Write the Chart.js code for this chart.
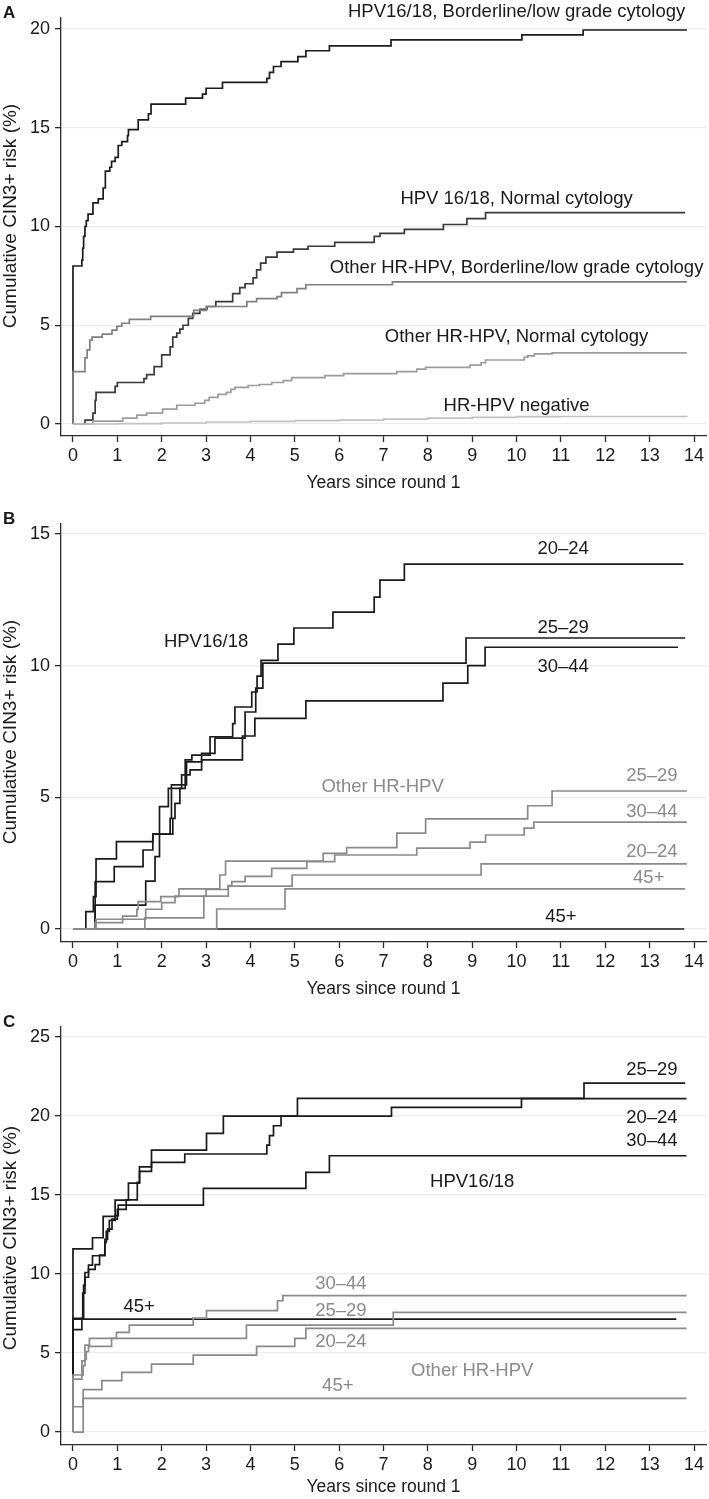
<!DOCTYPE html>
<html>
<head>
<meta charset="utf-8">
<script src="https://cdn.jsdelivr.net/npm/chart.js@4.4.1/dist/chart.umd.min.js"></script>
<style>
html, body { margin: 0; padding: 0; background: #fff; overflow: hidden; }
canvas { position: absolute; left: 0; }
</style>
</head>
<body>
<canvas id="chartA" width="709" height="500" style="top:0px"></canvas>
<canvas id="chartB" width="709" height="500" style="top:506px"></canvas>
<canvas id="chartC" width="709" height="490" style="top:1009px"></canvas>
<script>
// x ticks shared by all three panels (years since round 1)
var xTicks = [0, 1, 2, 3, 4, 5, 6, 7, 8, 9, 10, 11, 12, 13, 14];

// ---- panel A: by HPV type and cytology ----
var yTicksA = [0, 5, 10, 15, 20];
var aHpvBorderline = [[0,0],[0,8.0],[0.2,8.3],[0.22,8.9],[0.24,9.5],[0.27,10.0],[0.3,10.3],[0.34,10.63],[0.45,11.2],[0.57,11.4],[0.68,11.95],[0.73,12.8],[0.83,13.0],[0.87,13.3],[0.95,13.5],[1.02,14.1],[1.1,14.3],[1.23,14.6],[1.25,14.9],[1.47,15.4],[1.7,15.7],[1.76,16.2],[2.54,16.5],[2.92,16.7],[3.0,17.0],[3.37,17.3],[4.37,17.5],[4.43,17.8],[4.52,18.1],[4.69,18.35],[5.07,18.6],[5.25,18.9],[5.78,19.15],[7.17,19.45],[10.12,19.7],[11.5,19.95],[13.84,19.95]];
var aHpvNormal = [[0,0],[0.27,0.2],[0.45,0.55],[0.5,1.2],[0.52,1.6],[0.95,1.9],[1.0,2.1],[1.6,2.3],[1.66,2.5],[1.83,2.9],[2.0,3.5],[2.19,3.9],[2.25,4.4],[2.34,4.6],[2.41,4.8],[2.48,5.0],[2.6,5.35],[2.7,5.6],[2.86,5.8],[3.02,5.95],[3.22,6.2],[3.6,6.6],[3.76,6.9],[3.88,7.1],[4.06,7.4],[4.14,7.8],[4.23,8.15],[4.35,8.45],[4.6,8.7],[4.97,8.85],[5.3,9.0],[5.9,9.2],[6.79,9.5],[6.92,9.65],[7.47,9.85],[8.35,10.1],[8.88,10.4],[9.3,10.7],[13.8,10.7]];
var aOtherBorderline = [[0,0],[0,2.65],[0.27,3.35],[0.32,3.75],[0.38,4.25],[0.43,4.4],[0.66,4.55],[0.88,4.75],[0.99,4.95],[1.1,5.1],[1.27,5.3],[1.75,5.45],[2.72,5.75],[3.0,5.95],[3.92,6.2],[4.14,6.35],[4.6,6.45],[4.7,6.65],[5.05,6.85],[5.25,7.05],[7.2,7.2],[13.84,7.2]];
var aOtherNormal = [[0,0],[0.45,0.15],[1.12,0.3],[1.44,0.45],[1.66,0.55],[2.02,0.75],[2.34,0.95],[2.75,1.05],[2.97,1.2],[3.07,1.35],[3.27,1.5],[3.46,1.6],[3.56,1.75],[3.65,1.85],[3.95,1.95],[4.2,2.0],[4.48,2.1],[4.74,2.2],[4.93,2.35],[5.68,2.45],[6.1,2.55],[7.3,2.65],[7.75,2.78],[7.95,2.87],[8.95,2.98],[9.2,3.1],[9.3,3.24],[10.17,3.38],[10.25,3.45],[10.4,3.55],[10.8,3.6],[13.84,3.6]];
var aNegative = [[0,0],[1,0.02],[2,0.05],[3,0.1],[4,0.13],[5,0.17],[6,0.2],[7,0.25],[8,0.3],[9,0.34],[10,0.37],[11,0.38],[13.84,0.4]];
var aLabelText = ['HPV16/18, Borderline/low grade cytology', 'HPV 16/18, Normal cytology', 'Other HR-HPV, Borderline/low grade cytology', 'Other HR-HPV, Normal cytology', 'HR-HPV negative'];
var aLabelX = [10, 10, 10, 10, 10];
var aLabelY = [20.86, 11.39, 7.9, 4.4, 0.91];

// ---- panel B: normal cytology, by age group ----
var yTicksB = [0, 5, 10, 15];
var bHpv2024 = [[0,0],[0.29,0.66],[0.46,1.23],[0.52,2.66],[0.98,3.32],[1.8,3.6],[1.95,4.65],[2.15,5.34],[2.53,6.42],[2.68,6.6],[3.09,7.3],[3.6,7.8],[3.65,8.43],[4.03,9.0],[4.15,9.6],[4.24,10.2],[4.62,10.82],[4.98,11.43],[5.86,12.03],[6.79,12.6],[6.92,13.25],[7.47,13.86],[13.76,13.86]];
var bHpv2529 = [[0,0],[0.5,1.8],[0.93,2.37],[1.58,3.0],[1.8,3.6],[2.19,4.2],[2.22,5.47],[2.56,6.35],[2.9,6.67],[3.2,7.25],[3.88,8.24],[4.12,9.15],[4.28,10.1],[8.86,11.05],[13.8,11.05]];
var bHpv3044 = [[0,0],[0.5,0.91],[1.64,1.82],[1.85,2.75],[1.95,3.6],[2.25,4.2],[2.3,4.77],[2.41,5.34],[2.45,5.85],[2.64,6.04],[2.9,6.42],[3.82,7.33],[4.1,8.0],[5.25,8.66],[8.34,9.34],[8.9,10.0],[9.29,10.7],[13.64,10.7]];
var bHpv45 = [[0,0],[13.78,0]];
var bOther2529 = [[0,0],[0.5,0.24],[1.12,0.49],[1.44,0.75],[1.47,1.04],[1.98,1.23],[2.39,1.52],[3.31,2.05],[3.44,2.58],[5.64,2.87],[6.17,3.09],[7.3,3.64],[7.95,4.18],[10.25,4.68],[10.8,5.24],[13.84,5.24]];
var bOther3044 = [[0,0],[0.52,0.37],[1.64,0.75],[2.0,1.0],[2.3,1.25],[3.0,1.5],[3.5,1.65],[3.58,1.8],[3.88,2.0],[4.48,2.3],[5.27,2.56],[5.9,2.81],[7.75,3.07],[8.95,3.3],[9.3,3.57],[10.17,3.83],[10.39,4.06],[13.84,4.06]];
var bOther2024 = [[0,0],[1.62,0.42],[2.95,1.25],[3.5,1.63],[4.94,2.05],[9.2,2.47],[13.84,2.47]];
var bOther45 = [[0,0],[3.24,0.76],[4.78,1.52],[13.8,1.52]];
var bBlackText = ['20–24', '25–29', '30–44', 'HPV16/18', '45+'];
var bBlackX = [11.05, 11.05, 11.05, 3.0, 11.0];
var bBlackY = [14.43, 11.43, 9.95, 10.9, 0.46];
var bGrayText = ['25–29', '30–44', '20–24', '45+', 'Other HR-HPV'];
var bGrayX = [13.05, 13.05, 13.05, 12.98, 6.98];
var bGrayY = [5.81, 4.44, 2.92, 1.94, 5.4];

// ---- panel C: borderline/low grade cytology, by age group ----
var yTicksC = [0, 5, 10, 15, 20, 25];
var cHpv2529 = [[0,0],[0,11.6],[0.44,12.3],[0.68,13.65],[0.95,14.68],[1.25,15.76],[1.5,16.79],[1.77,17.85],[3.01,18.9],[3.39,20.0],[5.06,21.12],[11.52,22.09],[13.8,22.09]];
var cHpv2024 = [[0,0],[0,6.48],[0.2,7.2],[0.24,9.3],[0.27,10.1],[0.35,10.57],[0.44,11.16],[0.72,12.2],[0.78,12.85],[0.88,13.48],[1.0,14.1],[1.2,14.7],[1.45,15.8],[1.5,16.5],[1.77,17.07],[2.52,17.6],[4.37,18.16],[4.43,18.76],[4.52,19.39],[4.69,20.0],[7.18,20.55],[10.11,21.1],[13.83,21.1]];
var cHpv3044 = [[0,0],[0,7.2],[0.22,8.8],[0.27,9.8],[0.35,10.3],[0.5,10.6],[0.6,11.2],[0.72,12.0],[0.75,12.7],[0.82,13.4],[0.95,13.7],[1.02,14.37],[2.94,15.42],[5.25,16.44],[5.78,17.49],[13.83,17.49]];
var cHpv45 = [[0,0],[0,7.15],[13.6,7.15]];
var cOther3044 = [[0,0],[0,3.61],[0.23,4.2],[0.27,4.6],[0.3,5.1],[0.35,5.42],[0.87,5.93],[0.98,6.31],[1.27,6.77],[2.71,7.21],[3.01,7.68],[4.61,8.31],[4.73,8.63],[13.83,8.63]];
var cOther2529 = [[0,0],[0,3.35],[0.2,4.5],[0.27,5.5],[0.37,5.93],[3.91,6.77],[7.22,7.57],[13.83,7.57]];
var cOther2024 = [[0,0],[0,1.6],[0.23,2.68],[0.65,3.25],[1.1,3.78],[1.77,4.3],[2.71,4.87],[4.14,5.42],[5.0,5.93],[5.25,6.56],[13.83,6.56]];
var cOther45 = [[0,0],[0.23,2.13],[13.83,2.13]];
var cBlackText = ['25–29', '20–24', '30–44', 'HPV16/18', '45+'];
var cBlackX = [13.05, 13.05, 13.05, 9.0, 1.49];
var cBlackY = [22.9, 19.9, 18.4, 15.85, 7.89];
var cGrayText = ['30–44', '25–29', '20–24', '45+', 'Other HR-HPV'];
var cGrayX = [6.04, 6.04, 6.04, 5.97, 9.0];
var cGrayY = [9.37, 7.68, 5.68, 2.93, 3.88];

var FONT = '"Liberation Sans", Arial, Helvetica, sans-serif';
var INK = '#1a1a1a';
var GRAYTXT = '#8a8a8a';
var AXIS = '#2a2a2a';
var GRID = '#ececec';
var AREA_TOP = 18, AREA_H = 418;

Chart.defaults.font.family = FONT;

function makeLabels(texts, xs, ys, color) {
    return texts.map(function(t, i){ return {text: t, x: xs[i], y: ys[i], color: color}; });
}

function curve(pts, color){
    return {
        data: pts.map(function(p){ return {x: p[0], y: p[1]}; }),
        borderColor: color,
        borderWidth: 1.7,
        pointRadius: 0,
        stepped: true,
        fill: false
    };
}

function makePanel(id, letter, yMin, yMax, yTicks, datasets, labels, titleBottom, yTitleShift){
    var canvas = document.getElementById(id);
    return new Chart(canvas, {
        type: 'line',
        data: {datasets: datasets},
        options: {
            responsive: false,
            animation: false,
            events: [],
            layout: {padding: {top: AREA_TOP, right: 3, left: 0, bottom: 0}},
            plugins: {legend: {display: false}, tooltip: {enabled: false}},
            scales: {
                x: {
                    type: 'linear', min: -0.27, max: 14.27,
                    afterBuildTicks: function(s){ s.ticks = xTicks.map(function(v){ return {value: v}; }); },
                    afterFit: function(s){ s.height = canvas.height - AREA_TOP - AREA_H; },
                    grid: {drawOnChartArea: false, tickLength: 6, tickColor: AXIS, tickWidth: 1.3},
                    border: {color: AXIS, width: 1.3},
                    ticks: {color: INK, font: {size: 18}, padding: 3, maxRotation: 0, autoSkip: false},
                    title: {display: true, text: 'Years since round 1', color: INK, font: {size: 17.5}, padding: {top: 0, bottom: titleBottom}}
                },
                y: {
                    type: 'linear', min: yMin, max: yMax,
                    afterBuildTicks: function(s){ s.ticks = yTicks.map(function(v){ return {value: v}; }); },
                    afterFit: function(s){ s.width = 61; },
                    grid: {color: GRID, lineWidth: 1.3, tickLength: 6, tickColor: AXIS, tickWidth: 1.3},
                    border: {color: AXIS, width: 1.3},
                    ticks: {color: INK, font: {size: 18}, padding: 5, autoSkip: false}
                }
            }
        },
        plugins: [{
            id: 'curveLabels',
            afterDatasetsDraw: function(chart){
                var ctx = chart.ctx, xs = chart.scales.x, ys = chart.scales.y, area = chart.chartArea;
                ctx.save();
                ctx.font = '18.5px ' + FONT;
                ctx.textAlign = 'center';
                ctx.textBaseline = 'middle';
                labels.forEach(function(l){
                    ctx.fillStyle = l.color;
                    ctx.fillText(l.text, xs.getPixelForValue(l.x), ys.getPixelForValue(l.y));
                });
                // y axis title (drawn by hand so it can sit where the original has it)
                ctx.fillStyle = INK;
                ctx.font = '19px ' + FONT;
                ctx.translate(11, (area.top + area.bottom) / 2 + yTitleShift);
                ctx.rotate(-Math.PI / 2);
                ctx.fillText('Cumulative CIN3+ risk (%)', 0, 0);
                ctx.restore();

                ctx.save();
                ctx.font = 'bold 17px ' + FONT;
                ctx.textAlign = 'left';
                ctx.textBaseline = 'middle';
                ctx.fillStyle = INK;
                ctx.fillText(letter, 3, area.top - 5);
                ctx.restore();
            }
        }]
    });
}

makePanel('chartA', 'A', -0.608, 20.557, yTicksA, [
    curve(aNegative, '#c2c2c2'),
    curve(aOtherNormal, '#9c9c9c'),
    curve(aOtherBorderline, '#808080'),
    curve(aHpvNormal, '#3a3a3a'),
    curve(aHpvBorderline, '#1c1c1c')
], makeLabels(aLabelText, aLabelX, aLabelY, INK), 6, -11);

makePanel('chartB', 'B', -0.494, 15.38, yTicksB, [
    curve(bOther45, '#8a8a8a'),
    curve(bOther2024, '#8a8a8a'),
    curve(bOther3044, '#8a8a8a'),
    curve(bOther2529, '#8a8a8a'),
    curve(bHpv45, '#1a1a1a'),
    curve(bHpv3044, '#1a1a1a'),
    curve(bHpv2529, '#1a1a1a'),
    curve(bHpv2024, '#1a1a1a')
], makeLabels(bBlackText, bBlackX, bBlackY, INK).concat(makeLabels(bGrayText, bGrayX, bGrayY, GRAYTXT)), 6, -1);

makePanel('chartC', 'C', -0.82, 25.64, yTicksC, [
    curve(cOther45, '#8a8a8a'),
    curve(cOther2024, '#8a8a8a'),
    curve(cOther2529, '#8a8a8a'),
    curve(cOther3044, '#8a8a8a'),
    curve(cHpv45, '#1a1a1a'),
    curve(cHpv3044, '#1a1a1a'),
    curve(cHpv2024, '#1a1a1a'),
    curve(cHpv2529, '#1a1a1a')
], makeLabels(cBlackText, cBlackX, cBlackY, INK).concat(makeLabels(cGrayText, cGrayX, cGrayY, GRAYTXT)), 1, 2);
</script>
</body>
</html>
